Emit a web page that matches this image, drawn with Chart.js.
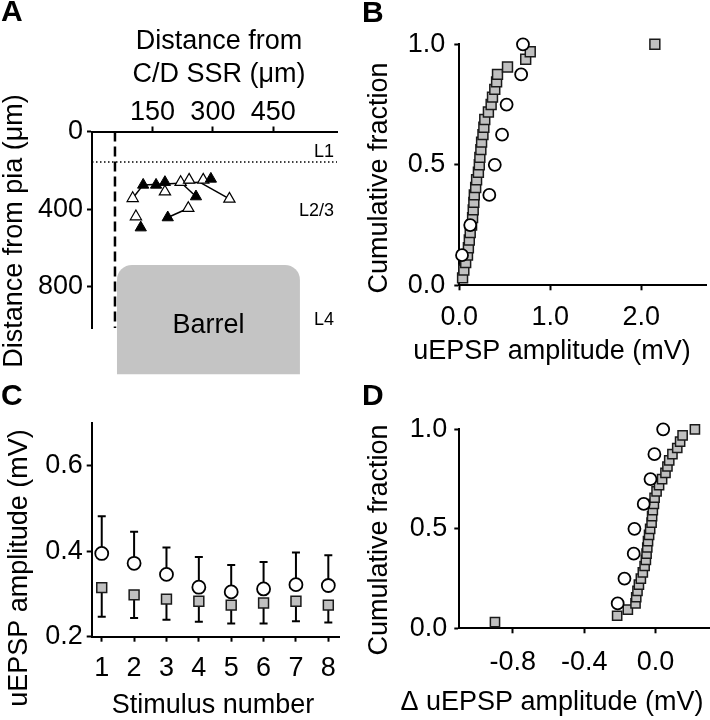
<!DOCTYPE html>
<html>
<head>
<meta charset="utf-8">
<script src="https://cdn.jsdelivr.net/npm/chart.js@4.4.0/dist/chart.umd.min.js"></script>
<style>
body { margin: 0; background: #fff; }
#wrap { position: relative; width: 710px; height: 720px; }
canvas { position: absolute; }
</style>
</head>
<body>
<div id="wrap">
  <canvas id="chartA" width="360" height="380" style="left:0px;top:0px"></canvas>
  <canvas id="chartB" width="350" height="380" style="left:360px;top:0px"></canvas>
  <canvas id="chartC" width="360" height="340" style="left:0px;top:380px"></canvas>
  <canvas id="chartD" width="350" height="340" style="left:360px;top:380px"></canvas>
</div>
<script>
// ---- panel A: cell positions (um) ----
const filledTriX = [127, 159, 181, 258, 295, 188, 121];
const filledTriY = [275, 275, 261, 335, 244, 443, 495];
const openTriX = [101, 181, 220, 241, 276, 239, 109, 341];
const openTriY = [344, 310, 261, 249, 249, 395, 438, 347];
const linkX = [[101, 127], [127, 268], [268, 341], [220, 258], [188, 239]];
const linkY = [[344, 275], [275, 262], [262, 347], [261, 335], [443, 395]];
const barrelX = [62, 516];
const barrelDepth = [687, 1250];
const ssrX = 57;
const l1Depth = 157;
const aTicksX = [150, 300, 450];
const aTicksY = [0, 400, 800];

// ---- panel B: cumulative uEPSP amplitude ----
const bCircleX = [0.03, 0.12, 0.33, 0.39, 0.47, 0.52, 0.68, 0.70];
const bCircleFrac = [0.125, 0.25, 0.375, 0.5, 0.625, 0.75, 0.875, 1.0];
const bSquareX = [0.036, 0.05, 0.07, 0.09, 0.10, 0.11, 0.12, 0.135, 0.146, 0.153, 0.16, 0.165,
                  0.18, 0.19, 0.21, 0.22, 0.226, 0.237, 0.245, 0.26, 0.27, 0.28, 0.32, 0.35,
                  0.365, 0.39, 0.41, 0.42, 0.53, 0.73, 0.78, 2.15];
const bSquareFrac = [0.031, 0.063, 0.094, 0.125, 0.156, 0.188, 0.219, 0.25, 0.281, 0.313, 0.344, 0.375,
                     0.406, 0.438, 0.469, 0.5, 0.531, 0.563, 0.594, 0.625, 0.656, 0.688, 0.719, 0.75,
                     0.781, 0.813, 0.844, 0.875, 0.906, 0.938, 0.969, 1.0];
const bTicksX = [0, 1, 2];
const bTicksY = [0, 0.5, 1];

// ---- panel C: amplitude vs stimulus number ----
const cStim = [1, 2, 3, 4, 5, 6, 7, 8];
const cCircleMean = [0.395, 0.372, 0.346, 0.316, 0.305, 0.312, 0.322, 0.320];
const cCircleErr = [0.087, 0.074, 0.063, 0.071, 0.063, 0.063, 0.075, 0.071];
const cSquareMean = [0.315, 0.298, 0.288, 0.283, 0.274, 0.279, 0.283, 0.274];
const cSquareErr = [0.068, 0.054, 0.048, 0.048, 0.043, 0.048, 0.047, 0.041];
const cTicksY = [0.2, 0.4, 0.6];

// ---- panel D: cumulative change in amplitude ----
const dCircleX = [-0.212, -0.174, -0.122, -0.118, -0.066, -0.028, -0.006, 0.043];
const dCircleFrac = [0.125, 0.25, 0.375, 0.5, 0.625, 0.75, 0.875, 1.0];
const dSquareX = [-0.90, -0.215, -0.155, -0.112, -0.108, -0.101, -0.093, -0.082, -0.071, -0.061, -0.054, -0.050,
                  -0.046, -0.042, -0.036, -0.030, -0.022, -0.019, -0.015, -0.009, -0.005, 0.006, 0.020, 0.037,
                  0.056, 0.067, 0.077, 0.095, 0.122, 0.138, 0.152, 0.221];
const dSquareFrac = bSquareFrac;
const dTicksX = [-0.8, -0.4, 0.0];
const dTicksY = [0, 0.5, 1];

const FONT = "'Liberation Sans', Arial, sans-serif";
const GRAY = '#c0c0c0';

function pts(xs, ys) {
    return xs.map(function (x, i) { return { x: x, y: ys[i] }; });
}

function label(ctx, text, x, y, size, opt) {
    opt = opt || {};
    ctx.save();
    ctx.font = (opt.bold ? 'bold ' : '') + size + 'px ' + FONT;
    ctx.fillStyle = '#000';
    ctx.textAlign = opt.align || 'center';
    ctx.textBaseline = opt.baseline || 'middle';
    ctx.translate(x, y);
    if (opt.rot) ctx.rotate(opt.rot);
    ctx.fillText(text, 0, 0);
    ctx.restore();
}

function axis(position, min, max, values, labels, size, pad, reverse) {
    return {
        type: 'linear',
        position: position,
        min: min,
        max: max,
        reverse: !!reverse,
        border: { display: true, color: '#000', width: 2 },
        grid: { drawOnChartArea: false, drawTicks: true, tickLength: 5, tickWidth: 2, tickColor: '#000' },
        ticks: {
            color: '#000',
            padding: pad,
            font: { family: FONT, size: 27, lineHeight: 1 },
            callback: function (v, i) { return labels[i]; }
        },
        afterBuildTicks: function (scale) {
            scale.ticks = values.map(function (v) { return { value: v }; });
        },
        afterFit: function (scale) {
            if (scale.isHorizontal()) scale.height = size; else scale.width = size;
        }
    };
}

function circles(data) {
    return { data: data, pointStyle: 'circle', pointRadius: 6, pointBackgroundColor: '#fff',
             pointBorderColor: '#000', pointBorderWidth: 1.8, clip: false, order: 0 };
}

function squares(data, r) {
    return { data: data, pointStyle: 'rect', pointRadius: r, pointBackgroundColor: GRAY,
             pointBorderColor: '#1a1a1a', pointBorderWidth: 1.5, clip: false, order: 1 };
}

function makeChart(id, datasets, scales, padding, plugins) {
    return new Chart(document.getElementById(id), {
        type: 'scatter',
        data: { datasets: datasets },
        options: {
            responsive: false,
            animation: false,
            events: [],
            layout: { padding: padding, autoPadding: false },
            plugins: { legend: { display: false }, tooltip: { enabled: false } },
            scales: scales
        },
        plugins: plugins
    });
}

// ---------------- A ----------------
var aSets = [
    { data: pts(filledTriX, filledTriY), pointStyle: 'triangle', pointRadius: 6.5, pointBackgroundColor: '#000',
      pointBorderColor: '#000', pointBorderWidth: 1, clip: false, order: 0 },
    { data: pts(openTriX, openTriY), pointStyle: 'triangle', pointRadius: 6.5, pointBackgroundColor: '#fff',
      pointBorderColor: '#000', pointBorderWidth: 1.2, clip: false, order: 1 }
];
linkX.forEach(function (lx, i) {
    aSets.push({ data: pts(lx, linkY[i]), showLine: true, borderColor: '#000', borderWidth: 1.5,
                 pointRadius: 0, clip: false, order: 2 });
});

makeChart('chartA', aSets, {
    x: axis('top', 0, 608, aTicksX, ['150', '300', '450'], 131.5, 0),
    y: axis('left', 0, 1012, aTicksY, ['0', '400', '800'], 92, 4, true)
}, { left: 0, top: 0, right: 23, bottom: 52 }, [{
    id: 'aLayers',
    beforeDatasetsDraw: function (chart) {
        var ctx = chart.ctx, xs = chart.scales.x, ys = chart.scales.y, a = chart.chartArea;
        var x0 = xs.getPixelForValue(barrelX[0]), x1 = xs.getPixelForValue(barrelX[1]);
        var yt = ys.getPixelForValue(barrelDepth[0]), yb = ys.getPixelForValue(barrelDepth[1]);
        var r = 15;
        ctx.save();
        ctx.fillStyle = '#c4c4c4';
        ctx.beginPath();
        ctx.moveTo(x0, yb);
        ctx.lineTo(x0, yt + r);
        ctx.arcTo(x0, yt, x0 + r, yt, r);
        ctx.lineTo(x1 - r, yt);
        ctx.arcTo(x1, yt, x1, yt + r, r);
        ctx.lineTo(x1, yb);
        ctx.closePath();
        ctx.fill();
        // dashed line: C/D septum
        var sx = xs.getPixelForValue(ssrX);
        ctx.strokeStyle = '#000';
        ctx.lineWidth = 2.5;
        ctx.setLineDash([10, 5]);
        ctx.beginPath();
        ctx.moveTo(sx, a.top);
        ctx.lineTo(sx, a.bottom);
        ctx.stroke();
        // dotted line: L1 border
        var ly = ys.getPixelForValue(l1Depth);
        ctx.lineWidth = 1.5;
        ctx.setLineDash([1.5, 2.5]);
        ctx.beginPath();
        ctx.moveTo(a.left, ly);
        ctx.lineTo(a.right, ly);
        ctx.stroke();
        ctx.restore();
        label(ctx, 'Barrel', (x0 + x1) / 2, 326, 27);
        label(ctx, 'L1', 334, 152, 18, { align: 'right' });
        label(ctx, 'L2/3', 334, 211, 18, { align: 'right' });
        label(ctx, 'L4', 334, 320, 18, { align: 'right' });
    },
    afterDraw: function (chart) {
        var ctx = chart.ctx;
        label(ctx, 'A', 1, 21, 30, { bold: true, align: 'left', baseline: 'alphabetic' });
        label(ctx, 'Distance from', 219, 42, 27);
        label(ctx, 'C/D SSR (\u03bcm)', 219, 75, 27);
        label(ctx, 'Distance from pia (\u03bcm)', 15, 231, 27, { rot: -Math.PI / 2 });
    }
}]);

// ---------------- B ----------------
makeChart('chartB', [
    circles(pts(bCircleX, bCircleFrac)),
    squares(pts(bSquareX, bSquareFrac), 7)
], {
    x: axis('bottom', 0, 2.72, bTicksX, ['0.0', '1.0', '2.0'], 81.2, 14),
    y: axis('left', 0, 1, bTicksY, ['0.0', '0.5', '1.0'], 99.3, 9)
}, { left: 0, top: 44.3, right: 3.3, bottom: 13.5 }, [{
    id: 'bText',
    afterDraw: function (chart) {
        var ctx = chart.ctx;
        label(ctx, 'B', 2, 22, 30, { bold: true, align: 'left', baseline: 'alphabetic' });
        label(ctx, 'Cumulative fraction', 20, 178, 27, { rot: -Math.PI / 2 });
        label(ctx, 'uEPSP amplitude (mV)', 192, 352, 27);
    }
}]);

// ---------------- C ----------------
makeChart('chartC', [
    Object.assign(circles(pts(cStim, cCircleMean)), { pointRadius: 6.5 }),
    squares(pts(cStim, cSquareMean), 7)
], {
    x: axis('bottom', 0.69, 8.33, cStim, ['1', '2', '3', '4', '5', '6', '7', '8'], 60, 13),
    y: axis('left', 0.2, 0.7, cTicksY, ['0.2', '0.4', '0.6'], 91.7, 4)
}, { left: 0, top: 43.3, right: 21, bottom: 23.3 }, [{
    id: 'cErrors',
    beforeDatasetsDraw: function (chart) {
        var ctx = chart.ctx, xs = chart.scales.x, ys = chart.scales.y;
        ctx.save();
        ctx.strokeStyle = '#000';
        ctx.lineWidth = 2;
        cStim.forEach(function (s, i) {
            var x = xs.getPixelForValue(s);
            var yc = ys.getPixelForValue(cCircleMean[i]);
            var yu = ys.getPixelForValue(cCircleMean[i] + cCircleErr[i]);
            var ysq = ys.getPixelForValue(cSquareMean[i]);
            var yl = ys.getPixelForValue(cSquareMean[i] - cSquareErr[i]);
            ctx.beginPath();
            ctx.moveTo(x, yc); ctx.lineTo(x, yu);
            ctx.moveTo(x - 4, yu); ctx.lineTo(x + 4, yu);
            ctx.moveTo(x, ysq); ctx.lineTo(x, yl);
            ctx.moveTo(x - 4, yl); ctx.lineTo(x + 4, yl);
            ctx.stroke();
        });
        ctx.restore();
    },
    afterDraw: function (chart) {
        var ctx = chart.ctx;
        label(ctx, 'C', 1, 25, 30, { bold: true, align: 'left', baseline: 'alphabetic' });
        label(ctx, 'uEPSP amplitude (mV)', 20, 188, 27, { rot: -Math.PI / 2 });
        label(ctx, 'Stimulus number', 213, 326, 27);
    }
}]);

// ---------------- D ----------------
makeChart('chartD', [
    circles(pts(dCircleX, dCircleFrac)),
    squares(pts(dSquareX, dSquareFrac), 6.5)
], {
    x: axis('bottom', -1.1, 0.3, dTicksX, ['-0.8', '-0.4', '0.0'], 60, 16),
    y: axis('left', 0, 1, dTicksY, ['0.0', '0.5', '1.0'], 99.3, 7)
}, { left: 0, top: 49.3, right: 1, bottom: 31.7 }, [{
    id: 'dText',
    afterDraw: function (chart) {
        var ctx = chart.ctx;
        label(ctx, 'D', 2, 25, 30, { bold: true, align: 'left', baseline: 'alphabetic' });
        label(ctx, 'Cumulative fraction', 20, 160, 27, { rot: -Math.PI / 2 });
        label(ctx, '\u0394 uEPSP amplitude (mV)', 192, 323, 27);
    }
}]);
</script>
</body>
</html>
